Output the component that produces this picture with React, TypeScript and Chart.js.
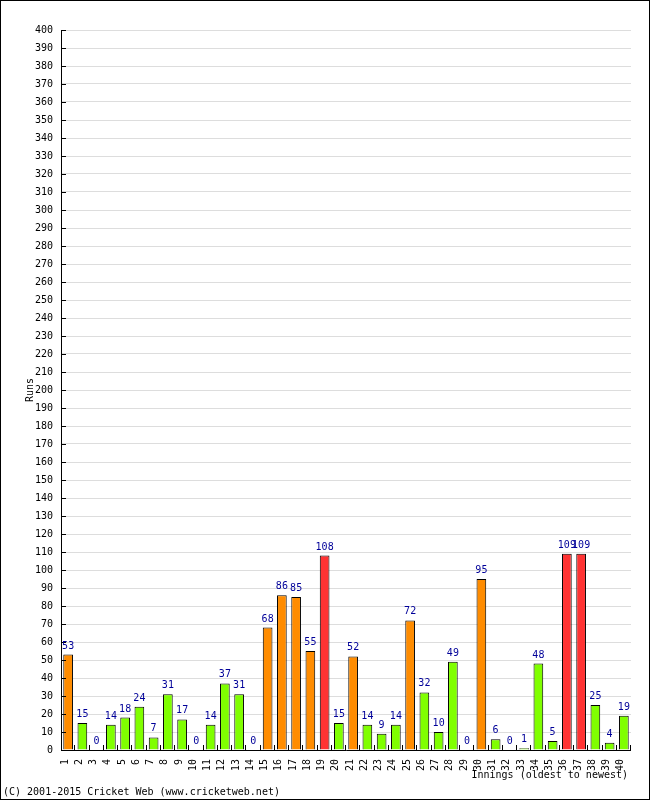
import React, { useEffect, useRef } from "react";
import { Chart, registerables } from "chart.js";

Chart.register(...registerables);

const innings: string[] = Array.from({ length: 40 }, (_, i) => String(i + 1));
const runs: number[] = [
  53, 15, 0, 14, 18, 24, 7, 31, 17, 0,
  14, 37, 31, 0, 68, 86, 85, 55, 108, 15,
  52, 14, 9, 14, 72, 32, 10, 49, 0, 95,
  6, 0, 1, 48, 5, 109, 109, 25, 4, 19,
];
const yMin = 0;
const yMax = 400;
const yStep = 10;
const yTitle = "Runs";
const xTitle = "Innings (oldest to newest)";
const copyright = "(C) 2001-2015 Cricket Web (www.cricketweb.net)";

const MONO = "10px 'DejaVu Sans Mono'";

function colorFor(v: number): string {
  if (v >= 100) return "#FF3333";
  if (v >= 50) return "#FF8C00";
  return "#80FF00";
}

const decorPlugin = {
  id: "decor",
  beforeDraw(chart: any) {
    const ctx = chart.ctx;
    ctx.save();
    ctx.fillStyle = "#ffffff";
    ctx.fillRect(0, 0, chart.width, chart.height);
    ctx.restore();
  },
  afterDatasetsDraw(chart: any) {
    const ctx = chart.ctx;
    const area = chart.chartArea;
    const xs = chart.scales.x;
    const ys = chart.scales.y;
    ctx.save();
    // axes
    ctx.strokeStyle = "#000";
    ctx.lineWidth = 1;
    ctx.beginPath();
    ctx.moveTo(Math.round(area.left) + 0.5, area.top);
    ctx.lineTo(Math.round(area.left) + 0.5, area.bottom + 0.5);
    ctx.lineTo(area.right, Math.round(area.bottom) + 0.5);
    ctx.stroke();
    // y ticks
    ctx.beginPath();
    for (let v = yMin; v <= yMax; v += yStep) {
      const y = Math.round(ys.getPixelForValue(v)) + 0.5;
      ctx.moveTo(area.left, y);
      ctx.lineTo(area.left + 5, y);
    }
    ctx.stroke();
    // x ticks between categories
    const n = innings.length;
    const cw = (area.right - area.left) / n;
    ctx.beginPath();
    for (let i = 1; i <= n; i++) {
      const x = Math.round(xs.getPixelForValue(i - 1) + cw / 2) - 0.5;
      ctx.moveTo(x, area.bottom);
      ctx.lineTo(x, area.bottom - 5);
    }
    ctx.stroke();
    // data labels
    ctx.font = MONO;
    ctx.fillStyle = "#000099";
    ctx.textAlign = "center";
    ctx.textBaseline = "alphabetic";
    const meta = chart.getDatasetMeta(0);
    meta.data.forEach((bar: any, i: number) => {
      ctx.fillText(String(runs[i]), bar.x, bar.y - 6);
    });
    // titles
    ctx.fillStyle = "#000";
    ctx.textAlign = "right";
    ctx.fillText(xTitle, area.right - 3, 778);
    ctx.textAlign = "left";
    ctx.fillText(copyright, 3, 795);
    ctx.save();
    ctx.translate(33, (area.top + area.bottom) / 2);
    ctx.rotate(-Math.PI / 2);
    ctx.textAlign = "center";
    ctx.fillText(yTitle, 0, 0);
    ctx.restore();
    // outer border
    ctx.strokeStyle = "#000";
    ctx.strokeRect(0.5, 0.5, chart.width - 1, chart.height - 1);
    ctx.restore();
  },
};

export default function App() {
  const ref = useRef<HTMLCanvasElement | null>(null);
  useEffect(() => {
    if (!ref.current) return;
    const chart = new Chart(ref.current, {
      type: "bar",
      data: {
        labels: innings,
        datasets: [
          {
            data: runs,
            backgroundColor: runs.map(colorFor),
            borderColor: "#000",
            borderWidth: 1,
            barPercentage: 0.68,
            categoryPercentage: 1,
          },
        ],
      },
      options: {
        responsive: false,
        animation: false,
        layout: { padding: { left: 0, right: 19, top: 30, bottom: 0 } },
        plugins: { legend: { display: false }, tooltip: { enabled: false } },
        scales: {
          x: {
            grid: { display: false, drawTicks: false },
            border: { display: false },
            ticks: {
              font: { family: "DejaVu Sans Mono", size: 10 },
              color: "#000",
              maxRotation: 90,
              minRotation: 90,
              autoSkip: false,
              padding: 9,
              labelOffset: -3,
            },
            afterFit: (s: any) => {
              s.height = 50;
            },
          },
          y: {
            min: yMin,
            max: yMax,
            grid: { color: "#dddddd", drawTicks: false },
            border: { display: false },
            ticks: {
              stepSize: yStep,
              font: { family: "DejaVu Sans Mono", size: 10 },
              color: "#000",
              padding: 8,
            },
            afterFit: (s: any) => {
              s.width = 61;
            },
          },
        },
      },
      plugins: [decorPlugin],
    });
    return () => chart.destroy();
  }, []);
  return (
    <canvas
      ref={ref}
      width={650}
      height={800}
      style={{ position: "fixed", left: 0, top: 0, width: 650, height: 800 }}
    />
  );
}
